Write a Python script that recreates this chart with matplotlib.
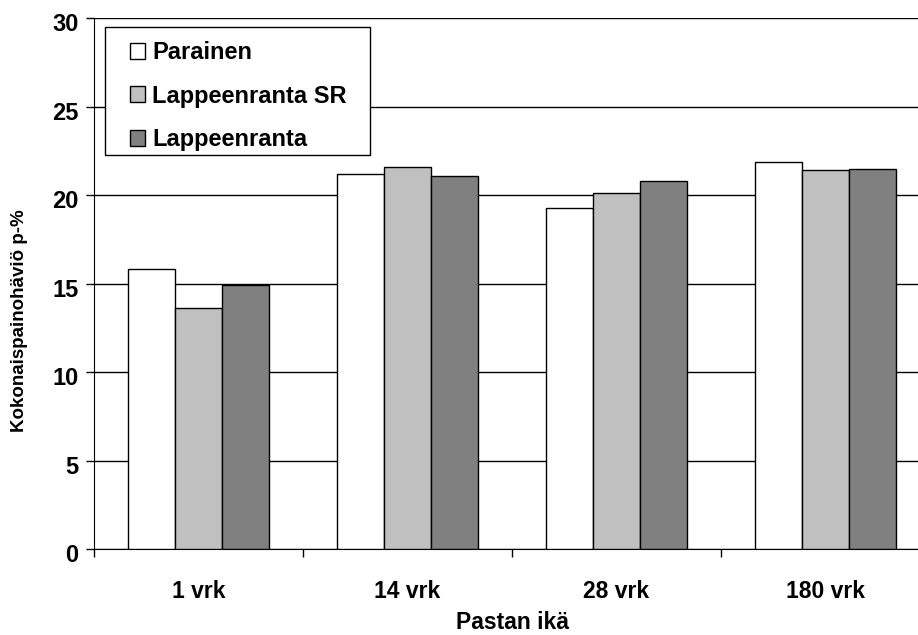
import matplotlib.pyplot as plt
import matplotlib.transforms as mtransforms
from matplotlib.patches import Rectangle
import numpy as np

# Kokonaispainohäviö eri ikäisille pastoille
categories = ['1 vrk', '14 vrk', '28 vrk', '180 vrk']
series_names = ['Parainen', 'Lappeenranta SR', 'Lappeenranta']
parainen = [15.8, 21.2, 19.3, 21.9]
lappeenranta_sr = [13.6, 21.6, 20.1, 21.4]
lappeenranta = [14.9, 21.1, 20.8, 21.5]
colors = ['white', '#c0c0c0', '#808080']

plt.rcParams['font.family'] = ['Liberation Sans', 'DejaVu Sans']
plt.rcParams['font.weight'] = 'bold'

W, H = 918, 635
fig = plt.figure(figsize=(W / 100, H / 100), dpi=100)
# axes run a little past the right edge, like in the original
ax = fig.add_axes([94 / W, 1 - 549 / H, 836 / W, 530.7 / H])

x = np.arange(len(categories))
w = 0.225
for i, (vals, name) in enumerate(zip([parainen, lappeenranta_sr, lappeenranta], series_names)):
	ax.bar(x + (i - 1) * w, vals, w, color=colors[i], edgecolor='black',
		linewidth=1, label=name, zorder=3)

ax.set_ylim(0, 30)
ax.set_xlim(-0.5, 3.5)
ax.set_yticks(range(0, 31, 5))
ax.yaxis.grid(True, color='black', linewidth=1)
ax.set_axisbelow(True)
ax.set_xticks(np.arange(-0.5, 4, 1))
ax.set_xticklabels([])
ax.set_xticks(x, minor=True)
ax.set_xticklabels(categories, minor=True, fontsize=16.5, fontweight='bold')
ax.tick_params(axis='x', which='minor', length=0, pad=22)
ax.tick_params(axis='x', which='major', length=6, width=1)
ax.tick_params(axis='y', length=6, width=1, labelsize=17, pad=5)
down = mtransforms.ScaledTranslation(0, -4 / 100, fig.dpi_scale_trans)
for lbl in ax.get_yticklabels():
	lbl.set_fontweight('bold')
	lbl.set_transform(lbl.get_transform() + down)

for s in ['right', 'top']:
	ax.spines[s].set_visible(False)

ax.set_xlabel('Pastan ikä', fontsize=16.5, fontweight='bold')
ax.xaxis.set_label_coords(0.5, (549 - 611) / 530.7)
ax.set_ylabel('Kokonaispainohäviö p-%', fontsize=13.5, fontweight='bold')
ax.yaxis.set_label_coords((28 - 94) / 836, (549 - 321) / 530.7)

# legend box
ax.add_patch(Rectangle((105 / W, 1 - 155 / H), 265 / W, 128 / H,
	transform=fig.transFigure, facecolor='white', edgecolor='black',
	linewidth=1, zorder=4, clip_on=False))
leg = ax.legend(loc='upper left', bbox_to_anchor=(130 / W, 1 - 41 / H),
	bbox_transform=fig.transFigure, fontsize=17, frameon=False,
	handlelength=0.65, handleheight=0.65, handletextpad=0.3,
	labelspacing=0.87, borderpad=0, borderaxespad=0)
leg.set_zorder(5)
for t in leg.get_texts():
	t.set_fontweight('bold')

fig.savefig('out.png', dpi=100)
